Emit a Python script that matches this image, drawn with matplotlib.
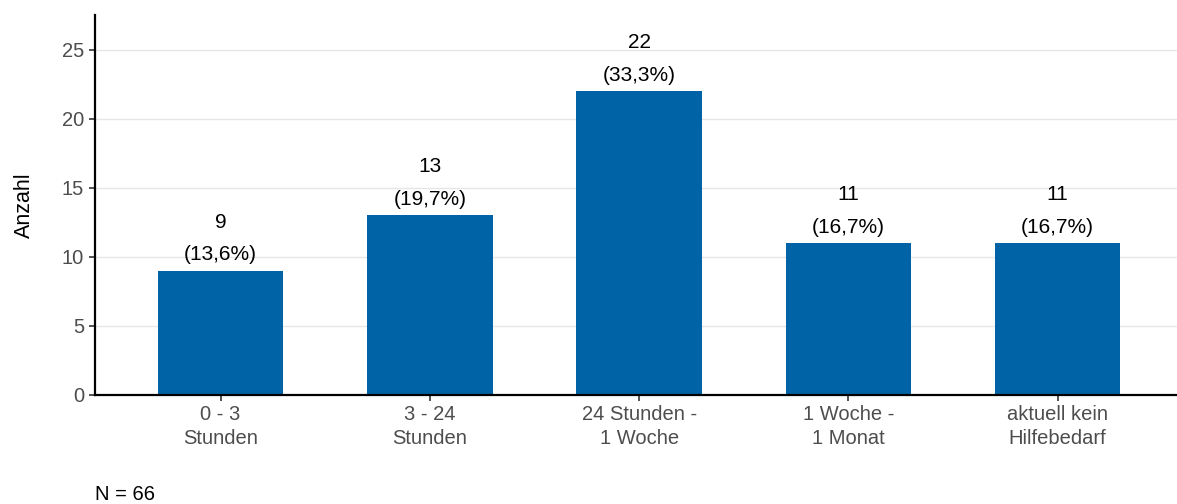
import matplotlib.pyplot as plt

categories = ["0 - 3\nStunden", "3 - 24\nStunden", "24 Stunden -\n1 Woche",
              "1 Woche -\n1 Monat", "aktuell kein\nHilfebedarf"]
counts = [9, 13, 22, 11, 11]
percents = ["13,6%", "19,7%", "33,3%", "16,7%", "16,7%"]
total = 66

plt.rcParams['font.family'] = ['Liberation Sans', 'DejaVu Sans']

fig = plt.figure(figsize=(11.77, 5.04), dpi=100)
ax = fig.add_axes([95 / 1177, 109 / 504, 1 - 95 / 1177, 380 / 504])

x = range(len(categories))
ax.bar(x, counts, width=0.6, color="#0063a6", zorder=2)

for i, (c, p) in enumerate(zip(counts, percents)):
    ax.annotate("(%s)" % p, (i, c), xytext=(0, 11.5), textcoords="offset points",
                ha="center", va="center", fontsize=15, color="black")
    ax.annotate(str(c), (i, c), xytext=(0, 35), textcoords="offset points",
                ha="center", va="center", fontsize=15, color="black")

ax.set_xlim(-0.6, 4.57)
ax.set_ylim(0, 27.5)
ax.set_yticks([0, 5, 10, 15, 20, 25])
ax.set_xticks(list(x))
ax.set_xticklabels(categories, linespacing=1.3)
ax.yaxis.grid(True, color="#e6e6e6", linewidth=1, zorder=0)
ax.set_axisbelow(True)

for s in ["top", "right"]:
    ax.spines[s].set_visible(False)
for s in ["left", "bottom"]:
    ax.spines[s].set_linewidth(1.6)
    ax.spines[s].set_color("black")

ax.tick_params(axis="both", colors="#333333", labelcolor="#4d4d4d",
               labelsize=14.5, length=4.5, width=1.2)
ax.tick_params(axis="x", pad=3)
ax.set_ylabel("Anzahl", fontsize=15.5, color="black", labelpad=19)

fig.text(95 / 1177, 9 / 504, "N = %d" % total, fontsize=14.5, va="center", ha="left")

fig.savefig("out.png", dpi=100)
